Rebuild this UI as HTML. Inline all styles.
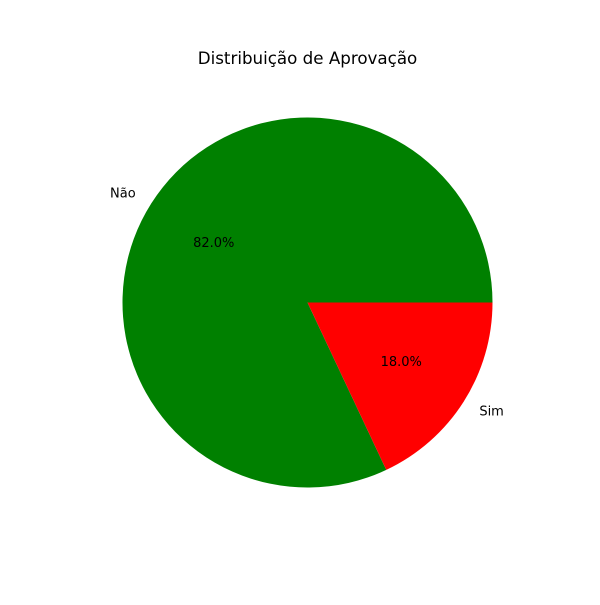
<!DOCTYPE html>
<html><head><meta charset="utf-8"><style>
body{margin:0;background:#fff;}
svg text{font-family:"DejaVu Sans","Liberation Sans",sans-serif;}
</style></head><body>
<svg id="chart" width="600" height="600" viewBox="0 0 600 600">
<rect width="600" height="600" fill="#fff"/>
<text x="307.5" y="64" text-anchor="middle" font-size="16.7" fill="#000">Distribuição de Aprovação</text>
<g id="slices"></g>
</svg>
<script>
const categories = ["Não", "Sim"];
const values = [82, 18];
const colors = ["green", "red"];
const cx = 307.5, cy = 302.5, R = 185;
const svg = document.getElementById('slices');
const NS = 'http://www.w3.org/2000/svg';
const total = values.reduce((a, b) => a + b, 0);
let a0 = 0;
values.forEach((v, i) => {
  const a1 = a0 + v / total * 360;
  const r0 = a0 * Math.PI / 180, r1 = a1 * Math.PI / 180;
  const x0 = cx + R * Math.cos(r0), y0 = cy - R * Math.sin(r0);
  const x1 = cx + R * Math.cos(r1), y1 = cy - R * Math.sin(r1);
  const large = (a1 - a0) > 180 ? 1 : 0;
  const p = document.createElementNS(NS, 'path');
  p.setAttribute('d', `M${cx},${cy} L${x0},${y0} A${R},${R} 0 ${large} 0 ${x1},${y1} Z`);
  p.setAttribute('fill', colors[i]);
  
  
  svg.appendChild(p);
  const mid = (a0 + a1) / 2 * Math.PI / 180;
  const c = Math.cos(mid), s = Math.sin(mid);
  const lt = document.createElementNS(NS, 'text');
  lt.setAttribute('x', cx + 1.1 * R * c);
  lt.setAttribute('y', cy - 1.1 * R * s + 4);
  lt.setAttribute('text-anchor', c < 0 ? 'end' : 'start');
  lt.setAttribute('font-size', '13');
  lt.textContent = categories[i];
  
  
  svg.appendChild(lt);
  const pt = document.createElementNS(NS, 'text');
  pt.setAttribute('x', cx + 0.6 * R * c);
  pt.setAttribute('y', cy - 0.6 * R * s + 4);
  pt.setAttribute('text-anchor', 'middle');
  pt.setAttribute('font-size', '13');
  pt.textContent = (v / total * 100).toFixed(1) + '%';
  
  
  svg.appendChild(pt);
  a0 = a1;
});
</script>
</body></html>
